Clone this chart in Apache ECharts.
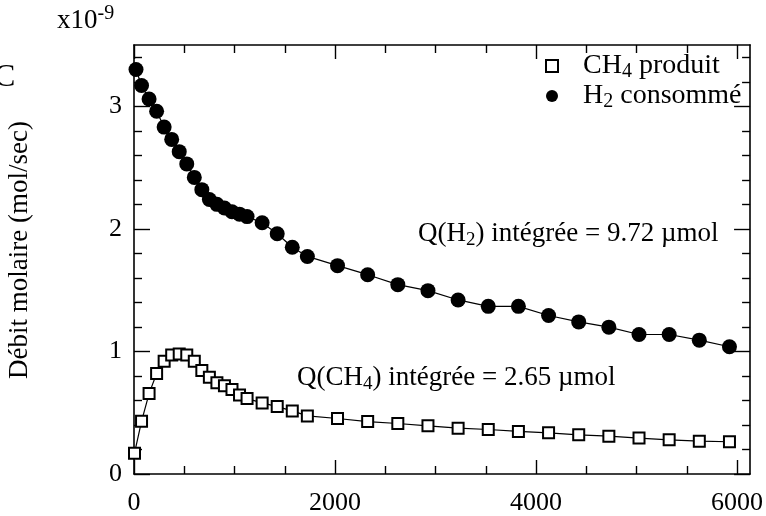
<!DOCTYPE html>
<html><head><meta charset="utf-8">
<script src="https://cdn.jsdelivr.net/npm/echarts@6/dist/echarts.min.js"></script>
<style>html,body{margin:0;padding:0;background:#fff}#c{width:766px;height:516px}</style>
</head><body><div id="c"></div>
<script>
const timeH2 = [20, 75, 150, 225, 300, 375, 450, 525, 600, 675, 750, 825, 900, 975, 1050, 1125, 1275, 1425, 1575, 1725, 2025, 2325, 2625, 2925, 3225, 3525, 3825, 4125, 4425, 4725, 5025, 5325, 5625, 5925];
const h2Values = [3.30, 3.17, 3.06, 2.96, 2.83, 2.73, 2.63, 2.53, 2.42, 2.32, 2.24, 2.20, 2.17, 2.14, 2.12, 2.10, 2.05, 1.96, 1.85, 1.775, 1.70, 1.626, 1.545, 1.496, 1.42, 1.368, 1.368, 1.293, 1.241, 1.198, 1.138, 1.138, 1.092, 1.038];
const timeCH4 = [5, 75, 150, 225, 300, 375, 450, 525, 600, 675, 750, 825, 900, 975, 1050, 1125, 1275, 1425, 1575, 1725, 2025, 2325, 2625, 2925, 3225, 3525, 3825, 4125, 4425, 4725, 5025, 5325, 5625, 5925];
const ch4Values = [0.17, 0.43, 0.656, 0.82, 0.92, 0.97, 0.98, 0.97, 0.92, 0.845, 0.79, 0.745, 0.72, 0.69, 0.645, 0.615, 0.58, 0.55, 0.515, 0.474, 0.453, 0.428, 0.412, 0.393, 0.374, 0.363, 0.347, 0.336, 0.32, 0.309, 0.293, 0.279, 0.268, 0.263];
const xMajorTicks = [0, 2000, 4000, 6000];
const xMinorTicks = [500, 1000, 1500, 2500, 3000, 3500, 4500, 5000, 5500];
const yMajorTicks = [0, 1, 2, 3];
const yMinorTicks = [0.2, 0.4, 0.6, 0.8, 1.2, 1.4, 1.6, 1.8, 2.2, 2.4, 2.6, 2.8, 3.2, 3.4];
const seriesNames = ['CH4 produit', 'H2 consommé'];

const FONT = '"Liberation Serif", "DejaVu Serif", serif';
const X_MIN = 0, X_MAX = 6130, Y_MIN = 0, Y_MAX = 3.5;
const lineStyle = {color: '#000', width: 1.6};

function xAx(pos, values, len, labels, showLine) {
  return {
    type: 'value', position: pos, min: X_MIN, max: X_MAX,
    axisLine: {show: showLine, onZero: false, lineStyle},
    axisTick: {show: true, inside: true, length: len, customValues: values, lineStyle: {color: '#000', width: 1.4}},
    axisLabel: {show: labels, customValues: values, formatter: v => String(v), fontFamily: FONT, fontSize: 26, color: '#000', margin: 16},
    splitLine: {show: false}
  };
}
function yAx(pos, values, len, labels, showLine) {
  return {
    type: 'value', position: pos, min: Y_MIN, max: Y_MAX,
    axisLine: {show: showLine, onZero: false, lineStyle},
    axisTick: {show: true, inside: true, length: len, customValues: values, lineStyle: {color: '#000', width: 1.4}},
    axisLabel: {show: labels, customValues: values, formatter: v => String(v), fontFamily: FONT, fontSize: 26, color: '#000', margin: 12},
    splitLine: {show: false}
  };
}

const subRich = {
  n: {fontFamily: FONT, fontSize: 27, lineHeight: 32, color: '#000'},
  s: {fontFamily: FONT, fontSize: 19, lineHeight: 16, verticalAlign: 'bottom', color: '#000'}
};
const legendRich = {
  n: {fontFamily: FONT, fontSize: 28, lineHeight: 32, color: '#000'},
  s: {fontFamily: FONT, fontSize: 20, lineHeight: 16, verticalAlign: 'bottom', color: '#000'}
};
function legendText(name) {
  const m = name.match(/^(CH|H)(\d)(.*)$/);
  return '{n|' + m[1] + '}{s|' + m[2] + '}{n|' + m[3] + '}';
}

const chart = echarts.init(document.getElementById('c'), null, {renderer: 'canvas'});
chart.setOption({
  animation: false,
  backgroundColor: '#fff',
  grid: {left: 134, right: 14, top: 45, bottom: 41, containLabel: false},
  xAxis: [
    xAx('bottom', xMajorTicks, 14, true, true),
    xAx('bottom', xMinorTicks, 8, false, false),
    xAx('top', xMajorTicks, 14, false, true),
    xAx('top', xMinorTicks, 8, false, false)
  ],
  yAxis: [
    yAx('left', yMajorTicks, 16, true, true),
    yAx('left', yMinorTicks, 8, false, false),
    yAx('right', yMajorTicks, 16, false, true),
    yAx('right', yMinorTicks, 8, false, false)
  ],
  legend: {
    orient: 'vertical', left: 545, top: 52, padding: 0, itemGap: 0, itemWidth: 12, itemHeight: 12,
    formatter: legendText,
    textStyle: {fontFamily: FONT, fontSize: 28, color: '#000', padding: [0, 0, 0, 20], rich: legendRich},
    data: [
      {name: seriesNames[0], icon: 'rect', itemStyle: {color: '#fff', borderColor: '#000', borderWidth: 2}},
      {name: seriesNames[1], icon: 'circle', itemStyle: {color: '#000', borderWidth: 0}}
    ]
  },
  series: [
    {
      name: seriesNames[0], type: 'line', xAxisIndex: 0, yAxisIndex: 0,
      data: timeCH4.map((t, i) => [t, ch4Values[i]]),
      symbol: 'rect', symbolSize: 11, clip: false,
      lineStyle: {color: '#000', width: 1.2},
      itemStyle: {color: '#fff', borderColor: '#000', borderWidth: 2}
    },
    {
      name: seriesNames[1], type: 'line', xAxisIndex: 0, yAxisIndex: 0,
      data: timeH2.map((t, i) => [t, h2Values[i]]),
      symbol: 'circle', symbolSize: 15, clip: false,
      lineStyle: {color: '#000', width: 1.2},
      itemStyle: {color: '#000', borderWidth: 0}
    }
  ],
  graphic: [
    {type: 'text', left: 57, top: 4, style: {text: '{n|x10}{p|-9}', rich: {
      n: {fontFamily: FONT, fontSize: 27, lineHeight: 34, color: '#000'},
      p: {fontFamily: FONT, fontSize: 20, lineHeight: 18, verticalAlign: 'top', color: '#000'}}}},
    {type: 'text', x: 20, y: 250, rotation: Math.PI / 2, style: {text: 'Débit molaire (mol/sec)', fontFamily: FONT, fontSize: 27, fill: '#000', align: 'center', verticalAlign: 'middle'}},
    {type: 'text', left: 418, top: 220, style: {text: '{n|Q(H}{s|2}{n|) intégrée = 9.72 µmol}', rich: subRich}},
    {type: 'text', left: 297, top: 364, style: {text: '{n|Q(CH}{s|4}{n|) intégrée = 2.65 µmol}', rich: subRich}},
    {type: 'text', left: -6, top: 62, style: {text: 'C', fontFamily: FONT, fontSize: 32, fill: '#000'}}
  ]
});
</script></body></html>
